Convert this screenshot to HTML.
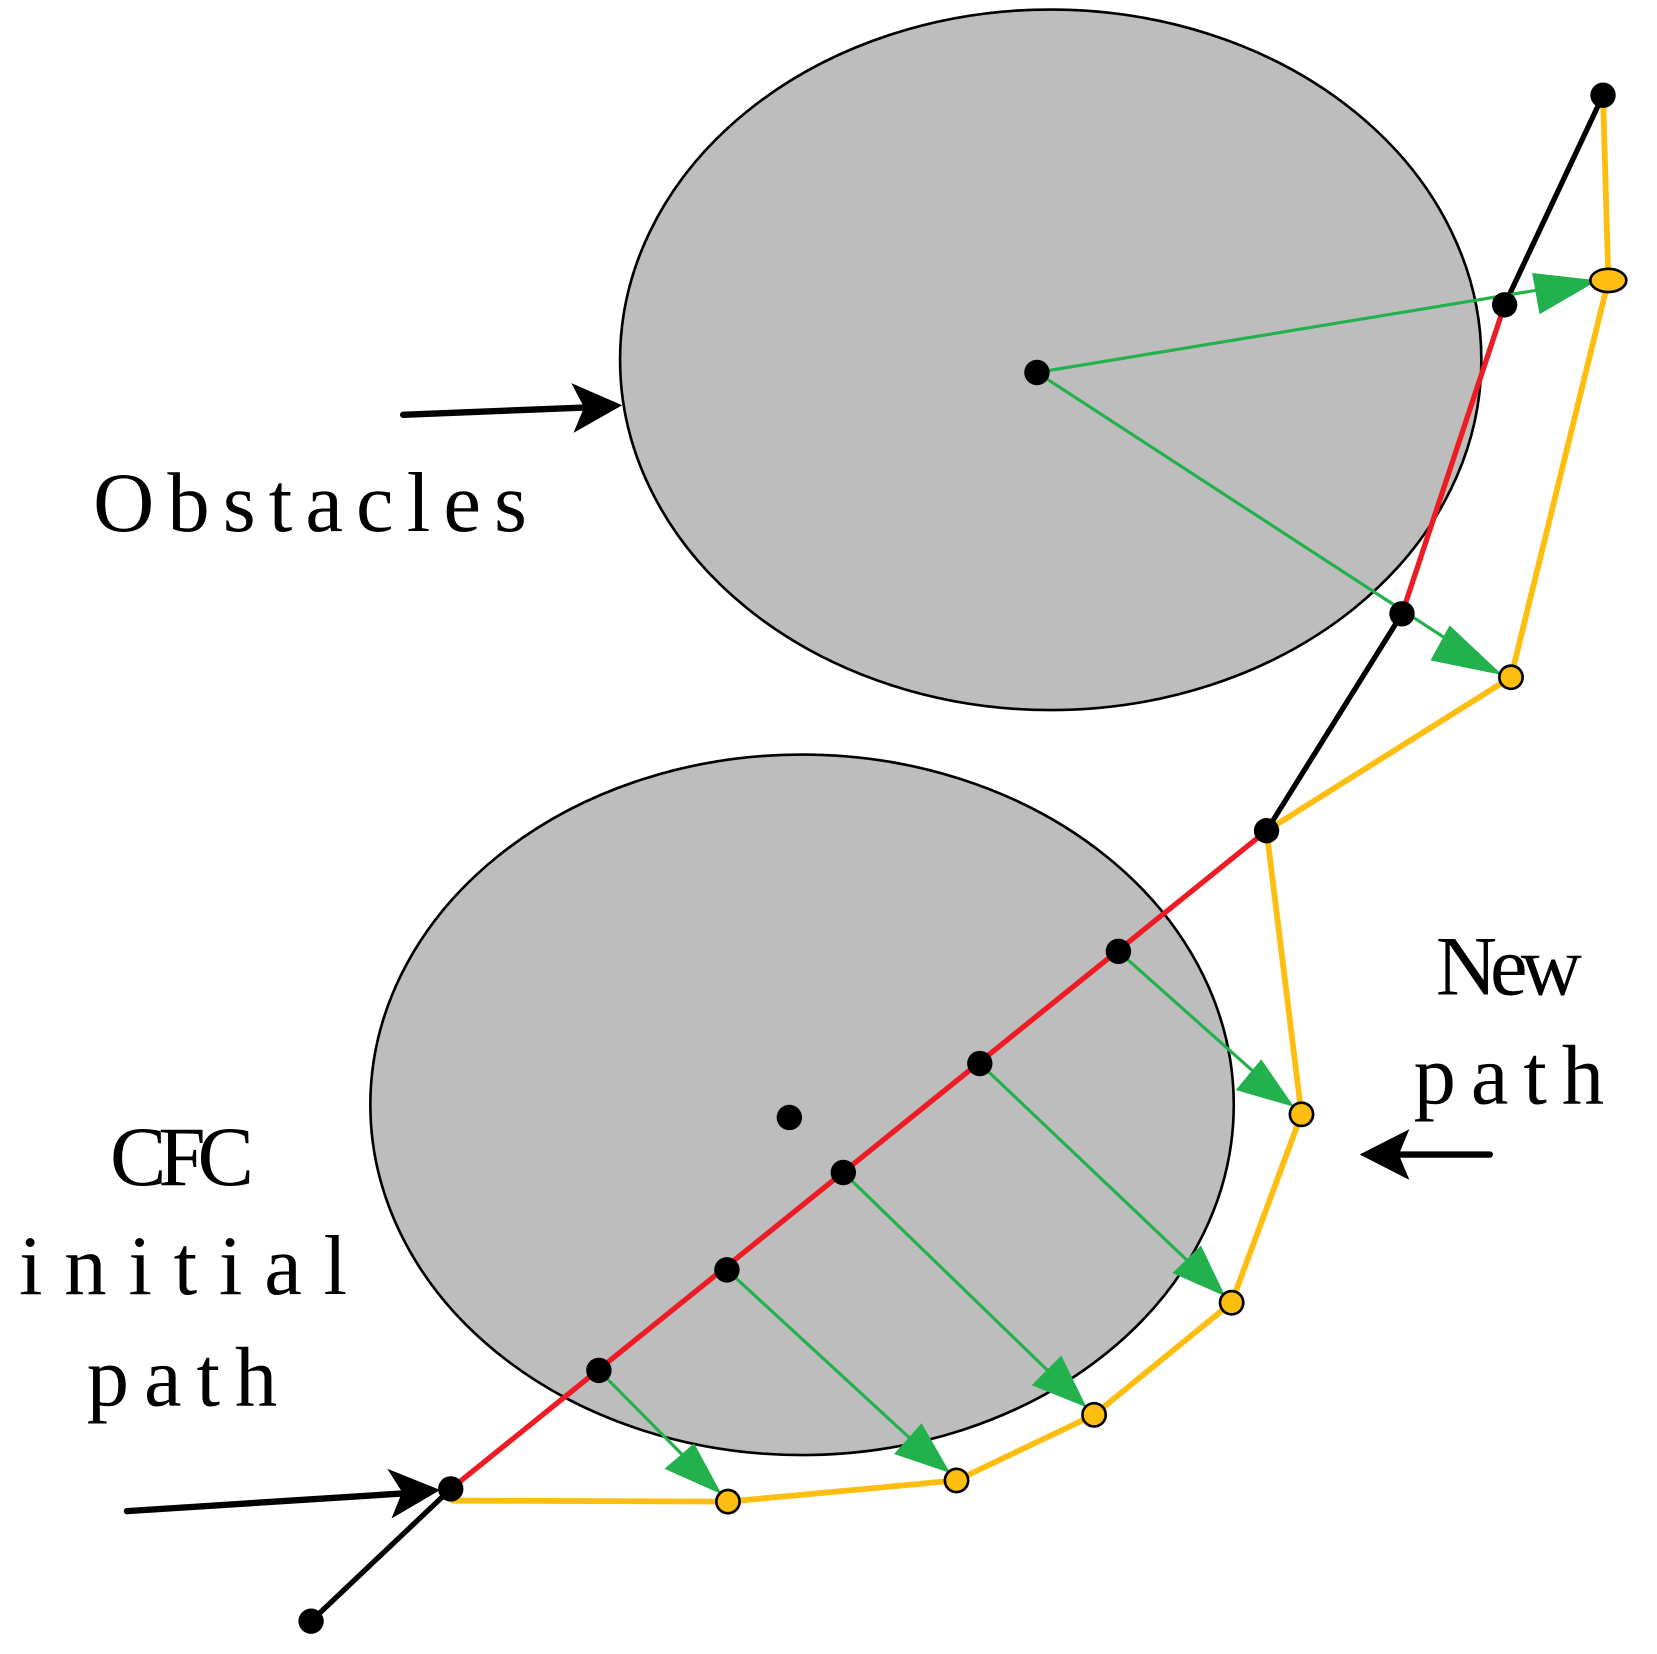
<!DOCTYPE html>
<html><head><meta charset="utf-8"><style>
html,body{margin:0;padding:0;background:#fff;}
svg{display:block;}
text{font-family:"Liberation Serif",serif;fill:#000;}
</style></head><body>
<svg width="1657" height="1654" viewBox="0 0 1566 1563" preserveAspectRatio="none" xmlns="http://www.w3.org/2000/svg">
<ellipse cx="993" cy="340" rx="407" ry="331" fill="#bdbdbd" stroke="#000" stroke-width="2.5"/>
<ellipse cx="758" cy="1044" rx="408" ry="331" fill="#bdbdbd" stroke="#000" stroke-width="2.5"/>

<g stroke="#000" stroke-width="5" fill="none" stroke-linecap="round">
<line x1="1515" y1="90" x2="1422" y2="288"/>
<line x1="1325" y1="580" x2="1197" y2="785"/>
<line x1="426" y1="1407" x2="294" y2="1532"/>
</g>
<g stroke="#ed1c24" stroke-width="5" fill="none">
<line x1="1422" y1="288" x2="1325" y2="580"/>
<line x1="1197" y1="785" x2="426" y2="1407"/>
</g>
<polyline points="1515,90 1520,265 1428,640 1197,785 1230,1053 1164,1231 1034,1337 904,1399 688,1419 426,1418" fill="none" stroke="#fdbe10" stroke-width="5.5"/>

<g stroke="#22b14c" stroke-width="3" fill="#22b14c">
<line x1="980" y1="352" x2="1460" y2="273"/>
<line x1="980" y1="352" x2="1375" y2="609"/>
<line x1="1057" y1="899" x2="1185" y2="1013"/>
<line x1="926" y1="1005" x2="1122" y2="1191"/>
<line x1="797" y1="1108" x2="990" y2="1295"/>
<line x1="687" y1="1200" x2="862" y2="1361"/>
<line x1="566" y1="1295" x2="655" y2="1385"/>
</g>
<g fill="#22b14c">
<polygon points="1510,265 1455,297 1448,258"/>
<polygon points="1420,638 1352,624 1370,591"/>
<polygon points="1223,1046 1168,1030 1192,1001"/>
<polygon points="1158,1225 1108,1203 1135,1177"/>
<polygon points="1027,1330 975,1309 1003,1281"/>
<polygon points="898,1392 845,1374 871,1345"/>
<polygon points="682,1412 628,1388 656,1364"/>
</g>

<g fill="#000">
<circle cx="980" cy="352" r="12"/><circle cx="1422" cy="288" r="12"/><circle cx="1515" cy="90" r="12"/>
<circle cx="1325" cy="580" r="12"/><circle cx="1197" cy="785" r="12"/><circle cx="1057" cy="899" r="12"/>
<circle cx="926" cy="1005" r="12"/><circle cx="797" cy="1108" r="12"/><circle cx="687" cy="1200" r="12"/>
<circle cx="566" cy="1295" r="12"/><circle cx="426" cy="1407" r="12"/><circle cx="294" cy="1532" r="12"/>
<circle cx="746" cy="1056" r="12"/>
</g>
<g fill="#fdbe10" stroke="#000" stroke-width="2.5">
<ellipse cx="1520" cy="265" rx="17" ry="11"/>
<circle cx="1428" cy="640" r="11"/><circle cx="1230" cy="1053" r="11"/><circle cx="1164" cy="1231" r="11"/>
<circle cx="1034" cy="1337" r="11"/><circle cx="904" cy="1399" r="11"/><circle cx="688" cy="1419" r="11"/>
</g>

<g stroke="#000" stroke-width="6" stroke-linecap="round">
<line x1="381" y1="392" x2="555" y2="385"/>
<line x1="120" y1="1428" x2="385" y2="1411"/>
<line x1="1408" y1="1091" x2="1315" y2="1091"/>
</g>
<g fill="#000">
<polygon points="588,383 540,362 552,385 542,409"/>
<polygon points="416,1408 366,1388 380,1410 370,1435"/>
<polygon points="1285,1091 1332,1067 1322,1091 1332,1115"/>
</g>

<g font-size="80">
<text x="88" y="502" textLength="410" lengthAdjust="spacing">Obstacles</text>
<text x="1357" y="940" textLength="138" lengthAdjust="spacing">New</text>
<text x="1336" y="1043" textLength="180" lengthAdjust="spacing">path</text>
<text x="104" y="1120" textLength="136" lengthAdjust="spacing">CFC</text>
<text x="18" y="1223" textLength="310" lengthAdjust="spacing">initial</text>
<text x="82" y="1328" textLength="180" lengthAdjust="spacing">path</text>
</g>
</svg>
</body></html>
